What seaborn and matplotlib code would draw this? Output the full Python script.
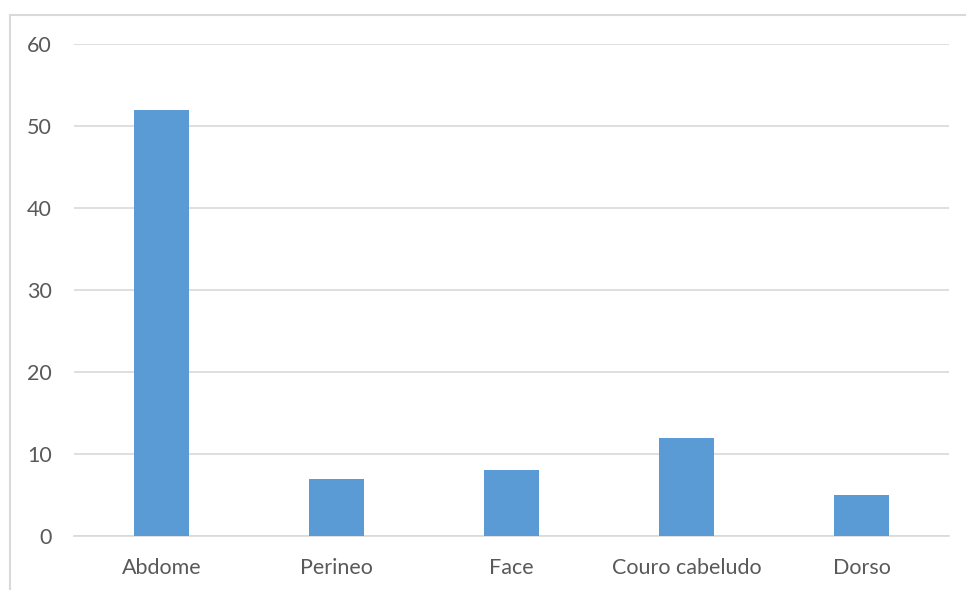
import matplotlib
matplotlib.use("Agg")
import matplotlib.pyplot as plt
import seaborn as sns
import pandas as pd
from matplotlib.lines import Line2D

categories = ["Abdome", "Perineo", "Face", "Couro cabeludo", "Dorso"]
values = [52, 7, 8, 12, 5]
yticks = [0, 10, 20, 30, 40, 50, 60]

sns.set_theme(style="white")
plt.rcParams['font.family'] = ['Lato', 'DejaVu Sans']

df = pd.DataFrame({"cat": categories, "val": values})

fig = plt.figure(figsize=(9.66, 5.90), dpi=100)
ax = fig.add_axes([74/966, 54/590, (949-74)/966, (536-44)/590])

sns.barplot(data=df, x="cat", y="val", color="#5B9BD5", saturation=1,
            width=0.314, ax=ax, zorder=3, linewidth=0)

ax.set_ylim(0, 60)
ax.set_yticks(yticks)
ax.set_xlim(-0.5, len(categories) - 0.5)
ax.yaxis.grid(True, color="#D9D9D9", linewidth=1.2, zorder=0)
ax.set_axisbelow(True)
for s in ["top", "right", "left"]:
    ax.spines[s].set_visible(False)
ax.spines["bottom"].set_color("#D9D9D9")
ax.spines["bottom"].set_linewidth(1.2)
ax.tick_params(axis="both", length=0, labelsize=15.5, labelcolor="#595959")
ax.tick_params(axis="y", pad=16)
ax.tick_params(axis="x", pad=16)
ax.set_xlabel("")
ax.set_ylabel("")

# outer chart frame (partially visible)
fig.add_artist(Line2D([10/966, 10/966], [0, 1 - 15/590], transform=fig.transFigure,
                      color="#D9D9D9", linewidth=1.5))
fig.add_artist(Line2D([10/966, 1.0], [1 - 15/590, 1 - 15/590], transform=fig.transFigure,
                      color="#D9D9D9", linewidth=1.5))

fig.savefig("out.png", dpi=100)
